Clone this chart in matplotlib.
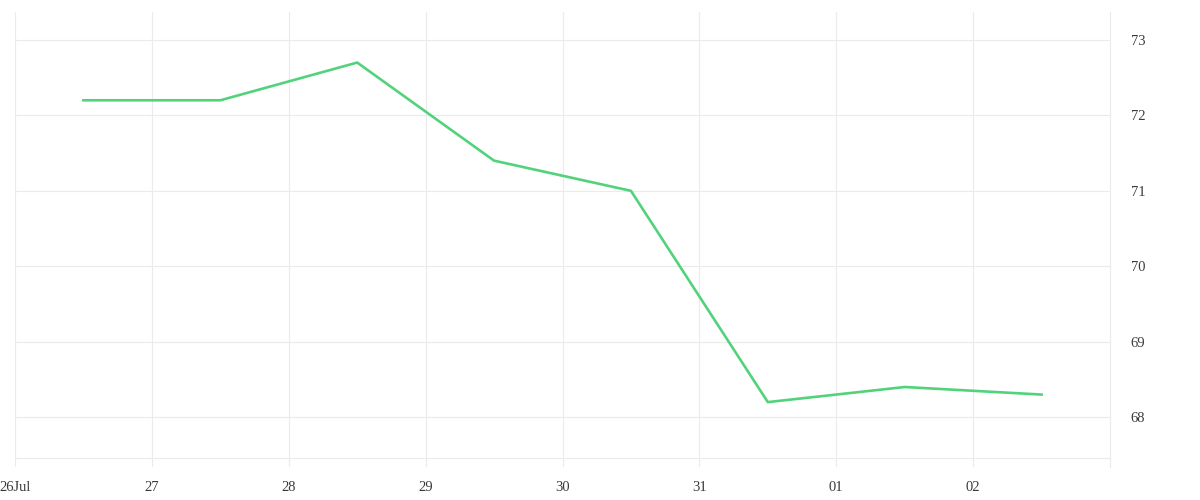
import numpy as np
import pandas as pd
import matplotlib
matplotlib.use("Agg")
import matplotlib.pyplot as plt
import matplotlib.dates as mdates

dates = pd.to_datetime(["2021-07-26 12:00", "2021-07-27 12:00", "2021-07-28 12:00",
                        "2021-07-29 12:00", "2021-07-30 12:00", "2021-07-31 12:00",
                        "2021-08-01 12:00", "2021-08-02 12:00"])
values = [72.2, 72.2, 72.7, 71.4, 71.0, 68.2, 68.4, 68.3]
tick_dates = pd.date_range("2021-07-26", "2021-08-02", freq="D")
tick_labels = ["26Jul", "27", "28", "29", "30", "31", "01", "02"]
y_ticks = [68, 69, 70, 71, 72, 73]

plt.rcParams['font.family'] = ['Liberation Serif', 'DejaVu Serif']

fig = plt.figure(figsize=(12, 5), dpi=100)
ax = fig.add_axes([15 / 1200, 33 / 500, 1095 / 1200, 455 / 500])

ax.plot(dates, values, color="#52d37b", linewidth=1.9, zorder=3)

ax.set_xlim(pd.Timestamp("2021-07-26"), pd.Timestamp("2021-08-03"))
ax.set_ylim(67.34, 73.37)
ax.set_xticks(tick_dates)
ax.set_xticklabels(tick_labels)
ax.set_yticks(y_ticks)
ax.yaxis.tick_right()

grid_c = "#ebebeb"
ax.grid(True, color=grid_c, linewidth=0.8)
ax.axhline(67.46, color=grid_c, linewidth=0.8, zorder=1)
for s in ["left", "top", "bottom"]:
    ax.spines[s].set_visible(False)
ax.spines["right"].set_color(grid_c)
ax.spines["right"].set_linewidth(0.8)

ax.tick_params(axis="both", length=0, labelsize=10.5, labelcolor="#3a3a3a")
ax.tick_params(axis="x", pad=10)
ax.tick_params(axis="y", pad=15)

fig.savefig("out.png", dpi=100, facecolor="white")
